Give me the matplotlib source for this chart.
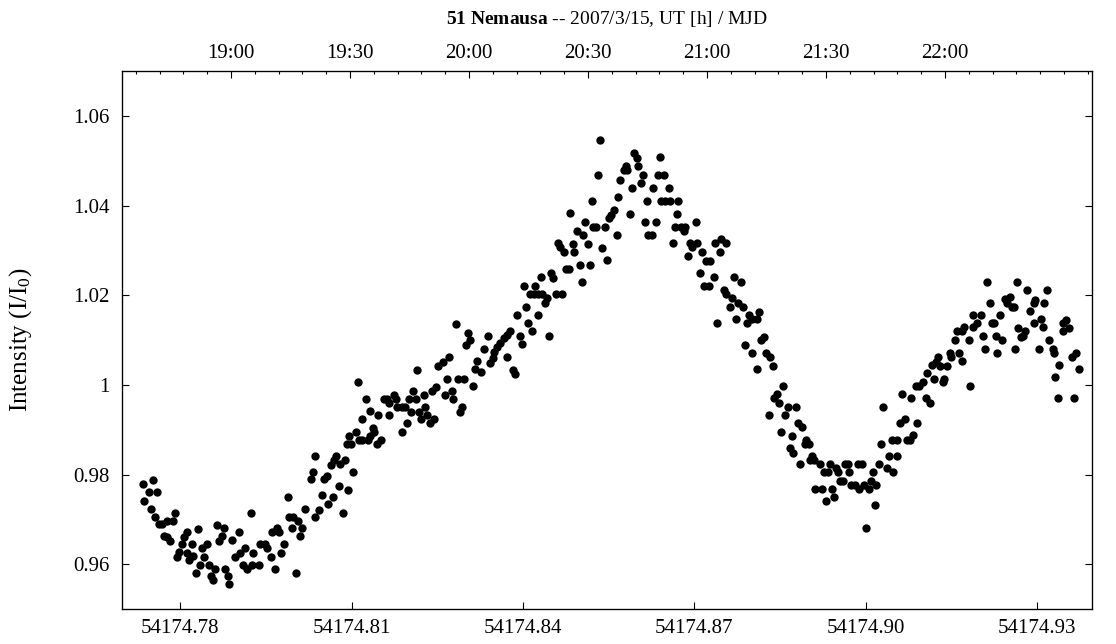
import matplotlib
matplotlib.use("Agg")
import matplotlib.pyplot as plt
from matplotlib.ticker import FixedLocator, MultipleLocator

plt.rcParams["font.family"] = "Liberation Serif"
plt.rcParams["mathtext.fontset"] = "custom"
plt.rcParams["mathtext.rm"] = "Liberation Serif"
plt.rcParams["mathtext.bf"] = "Liberation Serif:bold"
plt.rcParams["mathtext.it"] = "Liberation Serif:italic"

# light curve, MJD / relative intensity
mjd_a = [54174.7735, 54174.7753, 54174.7745, 54174.7760, 54174.7737, 54174.7749, 54174.7756, 54174.7763,
         54174.7768, 54174.7777, 54174.7787, 54174.7790, 54174.7771, 54174.7776, 54174.7782, 54174.7812,
         54174.7807, 54174.7803, 54174.7831, 54174.7820, 54174.7797, 54174.7794, 54174.7811, 54174.7816,
         54174.7823, 54174.7835, 54174.7827, 54174.7842, 54174.7838, 54174.7846, 54174.7865, 54174.7876,
         54174.7873, 54174.7868, 54174.7850, 54174.7854, 54174.7858, 54174.7861, 54174.7879, 54174.7883,
         54174.7886, 54174.7891, 54174.7902, 54174.7895, 54174.7905, 54174.7913, 54174.7924, 54174.7909,
         54174.7917, 54174.7925, 54174.7928, 54174.7937, 54174.7940, 54174.7948, 54174.7952, 54174.7958,
         54174.7966, 54174.7961, 54174.7970, 54174.7973, 54174.7982, 54174.7977, 54174.7988, 54174.7991,
         54174.7998, 54174.7996, 54174.8006, 54174.8010, 54174.8002, 54174.8019, 54174.8013]
int_a = [0.9779, 0.9788, 0.9760, 0.9760, 0.9741, 0.9724, 0.9706, 0.9689,
         0.9689, 0.9697, 0.9697, 0.9715, 0.9663, 0.9660, 0.9652, 0.9671,
         0.9661, 0.9644, 0.9679, 0.9644, 0.9627, 0.9617, 0.9626, 0.9609,
         0.9618, 0.9599, 0.9581, 0.9617, 0.9635, 0.9644, 0.9688, 0.9680,
         0.9663, 0.9652, 0.9599, 0.9573, 0.9564, 0.9590, 0.9590, 0.9573,
         0.9555, 0.9653, 0.9671, 0.9617, 0.9626, 0.9635, 0.9715, 0.9599,
         0.9590, 0.9599, 0.9626, 0.9599, 0.9644, 0.9644, 0.9635, 0.9617,
         0.9590, 0.9671, 0.9680, 0.9671, 0.9644, 0.9626, 0.9750, 0.9706,
         0.9706, 0.9680, 0.9697, 0.9662, 0.9581, 0.9724, 0.9680]

mjd_b = [54174.8035, 54174.8042, 54174.8048, 54174.8059, 54174.8068, 54174.8077, 54174.8085, 54174.8094,
         54174.8283, 54174.8303, 54174.8301, 54174.8271, 54174.8260, 54174.8252, 54174.8215, 54174.8111,
         54174.8267, 54174.8286, 54174.8296, 54174.8248, 54174.8241, 54174.8275, 54174.8264, 54174.8278,
         54174.8207, 54174.8226, 54174.8126, 54174.8156, 54174.8162, 54174.8174, 54174.8178, 54174.8166,
         54174.8200, 54174.8213, 54174.8132, 54174.8147, 54174.8166, 54174.8180, 54174.8189, 54174.8194,
         54174.8204, 54174.8218, 54174.8229, 54174.8232, 54174.8222, 54174.8245, 54174.8238, 54174.8118,
         54174.8197, 54174.8189, 54174.8293, 54174.8289, 54174.8137, 54174.8139, 54174.8132, 54174.8107,
         54174.8096, 54174.8128, 54174.8118, 54174.8112, 54174.8151, 54174.8144, 54174.8092, 54174.8099,
         54174.8036, 54174.8073, 54174.8069, 54174.8064, 54174.8079, 54174.8089, 54174.8032, 54174.8103,
         54174.8057, 54174.8051, 54174.8028]
int_b = [0.9705, 0.9720, 0.9755, 0.9735, 0.9750, 0.9775, 0.9715, 0.9765,
         1.0136, 1.0116, 1.0089, 1.0061, 1.0052, 1.0043, 1.0033, 1.0006,
         1.0014, 1.0014, 1.0014, 0.9996, 0.9987, 0.9987, 0.9977, 0.9968,
         0.9987, 0.9977, 0.9968, 0.9968, 0.9968, 0.9977, 0.9968, 0.9959,
         0.9968, 0.9968, 0.9942, 0.9933, 0.9933, 0.9950, 0.9950, 0.9950,
         0.9940, 0.9940, 0.9950, 0.9933, 0.9923, 0.9923, 0.9914, 0.9923,
         0.9914, 0.9895, 0.9950, 0.9940, 0.9904, 0.9895, 0.9886, 0.9895,
         0.9886, 0.9877, 0.9877, 0.9877, 0.9877, 0.9867, 0.9867, 0.9867,
         0.9841, 0.9841, 0.9832, 0.9821, 0.9823, 0.9832, 0.9805, 0.9805,
         0.9796, 0.9789, 0.9789]

mjd_c = [54174.8531, 54174.8570, 54174.8567, 54174.8521, 54174.8483, 54174.8559, 54174.8554, 54174.8550,
         54174.8509, 54174.8523, 54174.8528, 54174.8543, 54174.8564, 54174.8494, 54174.8505, 54174.8513,
         54174.8538, 54174.8547, 54174.8461, 54174.8465, 54174.8472, 54174.8487, 54174.8490, 54174.8499,
         54174.8517, 54174.8476, 54174.8480, 54174.8503, 54174.8431, 54174.8449, 54174.8453, 54174.8401,
         54174.8421, 54174.8412, 54174.8419, 54174.8426, 54174.8433, 54174.8442, 54174.8439, 54174.8457,
         54174.8468, 54174.8405, 54174.8390, 54174.8427, 54174.8408, 54174.8416, 54174.8446, 54174.8378,
         54174.8372, 54174.8366, 54174.8360, 54174.8355, 54174.8350, 54174.8347, 54174.8343, 54174.8395,
         54174.8398, 54174.8372, 54174.8338, 54174.8331, 54174.8320, 54174.8316, 54174.8326, 54174.8383,
         54174.8386, 54174.8308, 54174.8312]
int_c = [1.0468, 1.0457, 1.0420, 1.0411, 1.0383, 1.0390, 1.0379, 1.0372,
         1.0363, 1.0353, 1.0353, 1.0353, 1.0334, 1.0344, 1.0334, 1.0314,
         1.0306, 1.0279, 1.0316, 1.0307, 1.0296, 1.0314, 1.0296, 1.0267,
         1.0267, 1.0259, 1.0259, 1.0230, 1.0240, 1.0249, 1.0239, 1.0221,
         1.0221, 1.0203, 1.0203, 1.0203, 1.0203, 1.0193, 1.0182, 1.0203,
         1.0203, 1.0174, 1.0156, 1.0156, 1.0137, 1.0119, 1.0109, 1.0119,
         1.0111, 1.0104, 1.0094, 1.0084, 1.0074, 1.0059, 1.0048, 1.0109,
         1.0091, 1.0063, 1.0109, 1.0079, 1.0053, 1.0035, 1.0029, 1.0033,
         1.0024, 1.0099, 0.9997]

mjd_d = [54174.8535, 54174.8595, 54174.8600, 54174.8639, 54174.8580, 54174.8576, 54174.8582, 54174.8602,
         54174.8610, 54174.8591, 54174.8606, 54174.8628, 54174.8636, 54174.8647, 54174.8655, 54174.8617,
         54174.8642, 54174.8649, 54174.8657, 54174.8672, 54174.8588, 54174.8669, 54174.8614, 54174.8632,
         54174.8703, 54174.8666, 54174.8676, 54174.8684, 54174.8681, 54174.8619, 54174.8625, 54174.8662,
         54174.8692, 54174.8696, 54174.8705, 54174.8713, 54174.8688, 54174.8736, 54174.8747, 54174.8755,
         54174.8744, 54174.8721, 54174.8728, 54174.8710, 54174.8734, 54174.8717, 54174.8725, 54174.8770,
         54174.8781, 54174.8751, 54174.8756, 54174.8766, 54174.8762, 54174.8777, 54174.8785, 54174.8796,
         54174.8801, 54174.8810, 54174.8792, 54174.8773, 54174.8739, 54174.8813, 54174.8789, 54174.8800,
         54174.8810, 54174.8816]
int_d = [1.0546, 1.0517, 1.0507, 1.0508, 1.0488, 1.0479, 1.0479, 1.0488,
         1.0468, 1.0439, 1.0450, 1.0439, 1.0468, 1.0468, 1.0439, 1.0411,
         1.0411, 1.0411, 1.0411, 1.0411, 1.0381, 1.0381, 1.0363, 1.0363,
         1.0363, 1.0353, 1.0353, 1.0353, 1.0343, 1.0334, 1.0334, 1.0316,
         1.0316, 1.0307, 1.0316, 1.0297, 1.0288, 1.0316, 1.0325, 1.0316,
         1.0297, 1.0277, 1.0277, 1.0249, 1.0240, 1.0221, 1.0221, 1.0240,
         1.0230, 1.0212, 1.0203, 1.0193, 1.0173, 1.0183, 1.0173, 1.0156,
         1.0146, 1.0146, 1.0137, 1.0146, 1.0137, 1.0163, 1.0089, 1.0070,
         1.0035, 1.0099]

mjd_e = [54174.8822, 54174.8826, 54174.8833, 54174.8837, 54174.8855, 54174.8844, 54174.8840, 54174.8848,
         54174.8863, 54174.8877, 54174.8830, 54174.8859, 54174.8882, 54174.8889, 54174.8852, 54174.8871,
         54174.8896, 54174.8900, 54174.8893, 54174.8867, 54174.8873, 54174.8885, 54174.8906, 54174.8909,
         54174.8903, 54174.8919, 54174.8938, 54174.8926, 54174.8933, 54174.8948, 54174.8952, 54174.8964,
         54174.8968, 54174.8970, 54174.8986, 54174.8993, 54174.8955, 54174.8941, 54174.8923, 54174.8911,
         54174.8930, 54174.8945, 54174.8960, 54174.8974, 54174.8982, 54174.8989, 54174.8997, 54174.9005,
         54174.9009, 54174.9012, 54174.9018, 54174.9016, 54174.9001, 54174.9023, 54174.9027, 54174.9031,
         54174.9037, 54174.9040, 54174.9048, 54174.9046, 54174.9054, 54174.9055, 54174.9072, 54174.9078,
         54174.9083, 54174.9060, 54174.9068, 54174.9090, 54174.9064, 54174.9079]
int_e = [1.0107, 1.0072, 1.0063, 1.0043, 0.9997, 0.9979, 0.9970, 0.9960,
         0.9951, 0.9951, 0.9933, 0.9933, 0.9914, 0.9905, 0.9895, 0.9886,
         0.9877, 0.9868, 0.9868, 0.9860, 0.9849, 0.9823, 0.9842, 0.9832,
         0.9832, 0.9823, 0.9823, 0.9805, 0.9805, 0.9814, 0.9805, 0.9823,
         0.9823, 0.9805, 0.9823, 0.9823, 0.9786, 0.9767, 0.9767, 0.9767,
         0.9741, 0.9750, 0.9786, 0.9776, 0.9776, 0.9767, 0.9776, 0.9767,
         0.9786, 0.9805, 0.9776, 0.9732, 0.9680, 0.9823, 0.9869, 0.9951,
         0.9814, 0.9842, 0.9805, 0.9877, 0.9842, 0.9877, 0.9877, 0.9877,
         0.9888, 0.9914, 0.9924, 0.9914, 0.9979, 0.9970]

mjd_f = [54174.9213, 54174.9264, 54174.9283, 54174.9317, 54174.9217, 54174.9244, 54174.9252, 54174.9247,
         54174.9256, 54174.9260, 54174.9235, 54174.9288, 54174.9297, 54174.9294, 54174.9312, 54174.9188,
         54174.9201, 54174.9195, 54174.9221, 54174.9225, 54174.9187, 54174.9172, 54174.9168, 54174.9160,
         54174.9180, 54174.9157, 54174.9205, 54174.9228, 54174.9238, 54174.9209, 54174.9230, 54174.9262,
         54174.9267, 54174.9279, 54174.9276, 54174.9271, 54174.9295, 54174.9307, 54174.9310, 54174.9303,
         54174.9321, 54174.9328, 54174.9330, 54174.9345, 54174.9346, 54174.9351, 54174.9355, 54174.9361,
         54174.9368, 54174.9374, 54174.9339, 54174.9332, 54174.9336, 54174.9365, 54174.9147, 54174.9150,
         54174.9164, 54174.9168, 54174.9127, 54174.9123, 54174.9116, 54174.9130, 54174.9142, 54174.9108,
         54174.9101, 54174.9119, 54174.9137, 54174.9135, 54174.9094, 54174.9088, 54174.9183, 54174.9105,
         54174.9113]
int_f = [1.0230, 1.0230, 1.0212, 1.0212, 1.0183, 1.0191, 1.0195, 1.0182,
         1.0174, 1.0174, 1.0156, 1.0165, 1.0189, 1.0182, 1.0183, 1.0156,
         1.0156, 1.0137, 1.0137, 1.0137, 1.0128, 1.0128, 1.0119, 1.0119,
         1.0100, 1.0100, 1.0109, 1.0109, 1.0100, 1.0081, 1.0072, 1.0081,
         1.0126, 1.0119, 1.0109, 1.0107, 1.0137, 1.0146, 1.0128, 1.0081,
         1.0100, 1.0081, 1.0070, 1.0119, 1.0137, 1.0145, 1.0126, 1.0063,
         1.0070, 1.0035, 1.0044, 1.0017, 0.9971, 0.9971, 1.0072, 1.0063,
         1.0072, 1.0054, 1.0063, 1.0052, 1.0044, 1.0043, 1.0043, 1.0026,
         1.0007, 1.0014, 1.0014, 1.0006, 0.9997, 0.9997, 0.9997, 0.9970,
         0.9960]

mjd = mjd_a + mjd_b + mjd_c + mjd_d + mjd_e + mjd_f
intensity = int_a + int_b + int_c + int_d + int_e + int_f

mjd_ticks = [54174.78, 54174.81, 54174.84, 54174.87, 54174.90, 54174.93]
int_ticks = [0.96, 0.98, 1.00, 1.02, 1.04, 1.06]
int_labels = ["0.96", "0.98", "1", "1.02", "1.04", "1.06"]
ut_ticks = [19.0, 19.5, 20.0, 20.5, 21.0, 21.5, 22.0]
ut_labels = ["19:00", "19:30", "20:00", "20:30", "21:00", "21:30", "22:00"]

W, H = 1116, 644
fig = plt.figure(figsize=(W / 100, H / 100), dpi=100)
left, right, top, bottom = 122, 1092, 71, 609
ax = fig.add_axes([left / W, 1 - bottom / H, (right - left) / W, (bottom - top) / H])

ax.plot(mjd, intensity, "o", color="black", ms=6, mew=0)

ax.set_xlim(54174.7698, 54174.9396)
ax.set_ylim(0.95, 1.07)
ax.set_xticks(mjd_ticks)
ax.set_xticklabels(["%.2f" % t for t in mjd_ticks])
ax.set_yticks(int_ticks)
ax.set_yticklabels(int_labels)
ax.tick_params(direction="in", length=4.8, width=0.8, labelsize=15, right=True, top=False)
ax.tick_params(axis="x", pad=7.5)
ax.tick_params(axis="y", pad=9)
for s in ax.spines.values():
    s.set_linewidth(0.9)

# top axis: UT hours
ax2 = ax.twiny()
ax2.set_xlim(18.542, 22.6176)
ax2.xaxis.set_major_locator(FixedLocator(ut_ticks))
ax2.set_xticklabels(ut_labels)
ax2.xaxis.set_minor_locator(MultipleLocator(0.1))
ax2.tick_params(axis="x", which="major", direction="in", length=4.8, width=0.8, labelsize=15, pad=6)
ax2.tick_params(axis="x", which="minor", direction="in", length=2.4, width=0.8)

fig.text((left + right) / 2 / W, 1 - 19 / H, r"$\mathbf{51\ Nemausa}$ -- 2007/3/15, UT [h] / MJD",
         ha="center", va="center", fontsize=14)
fig.text(21 / W, 1 - 340 / H, r"Intensity (I/I$_0$)", rotation=90, ha="center", va="center", fontsize=18)

fig.savefig("out.png", dpi=100)
